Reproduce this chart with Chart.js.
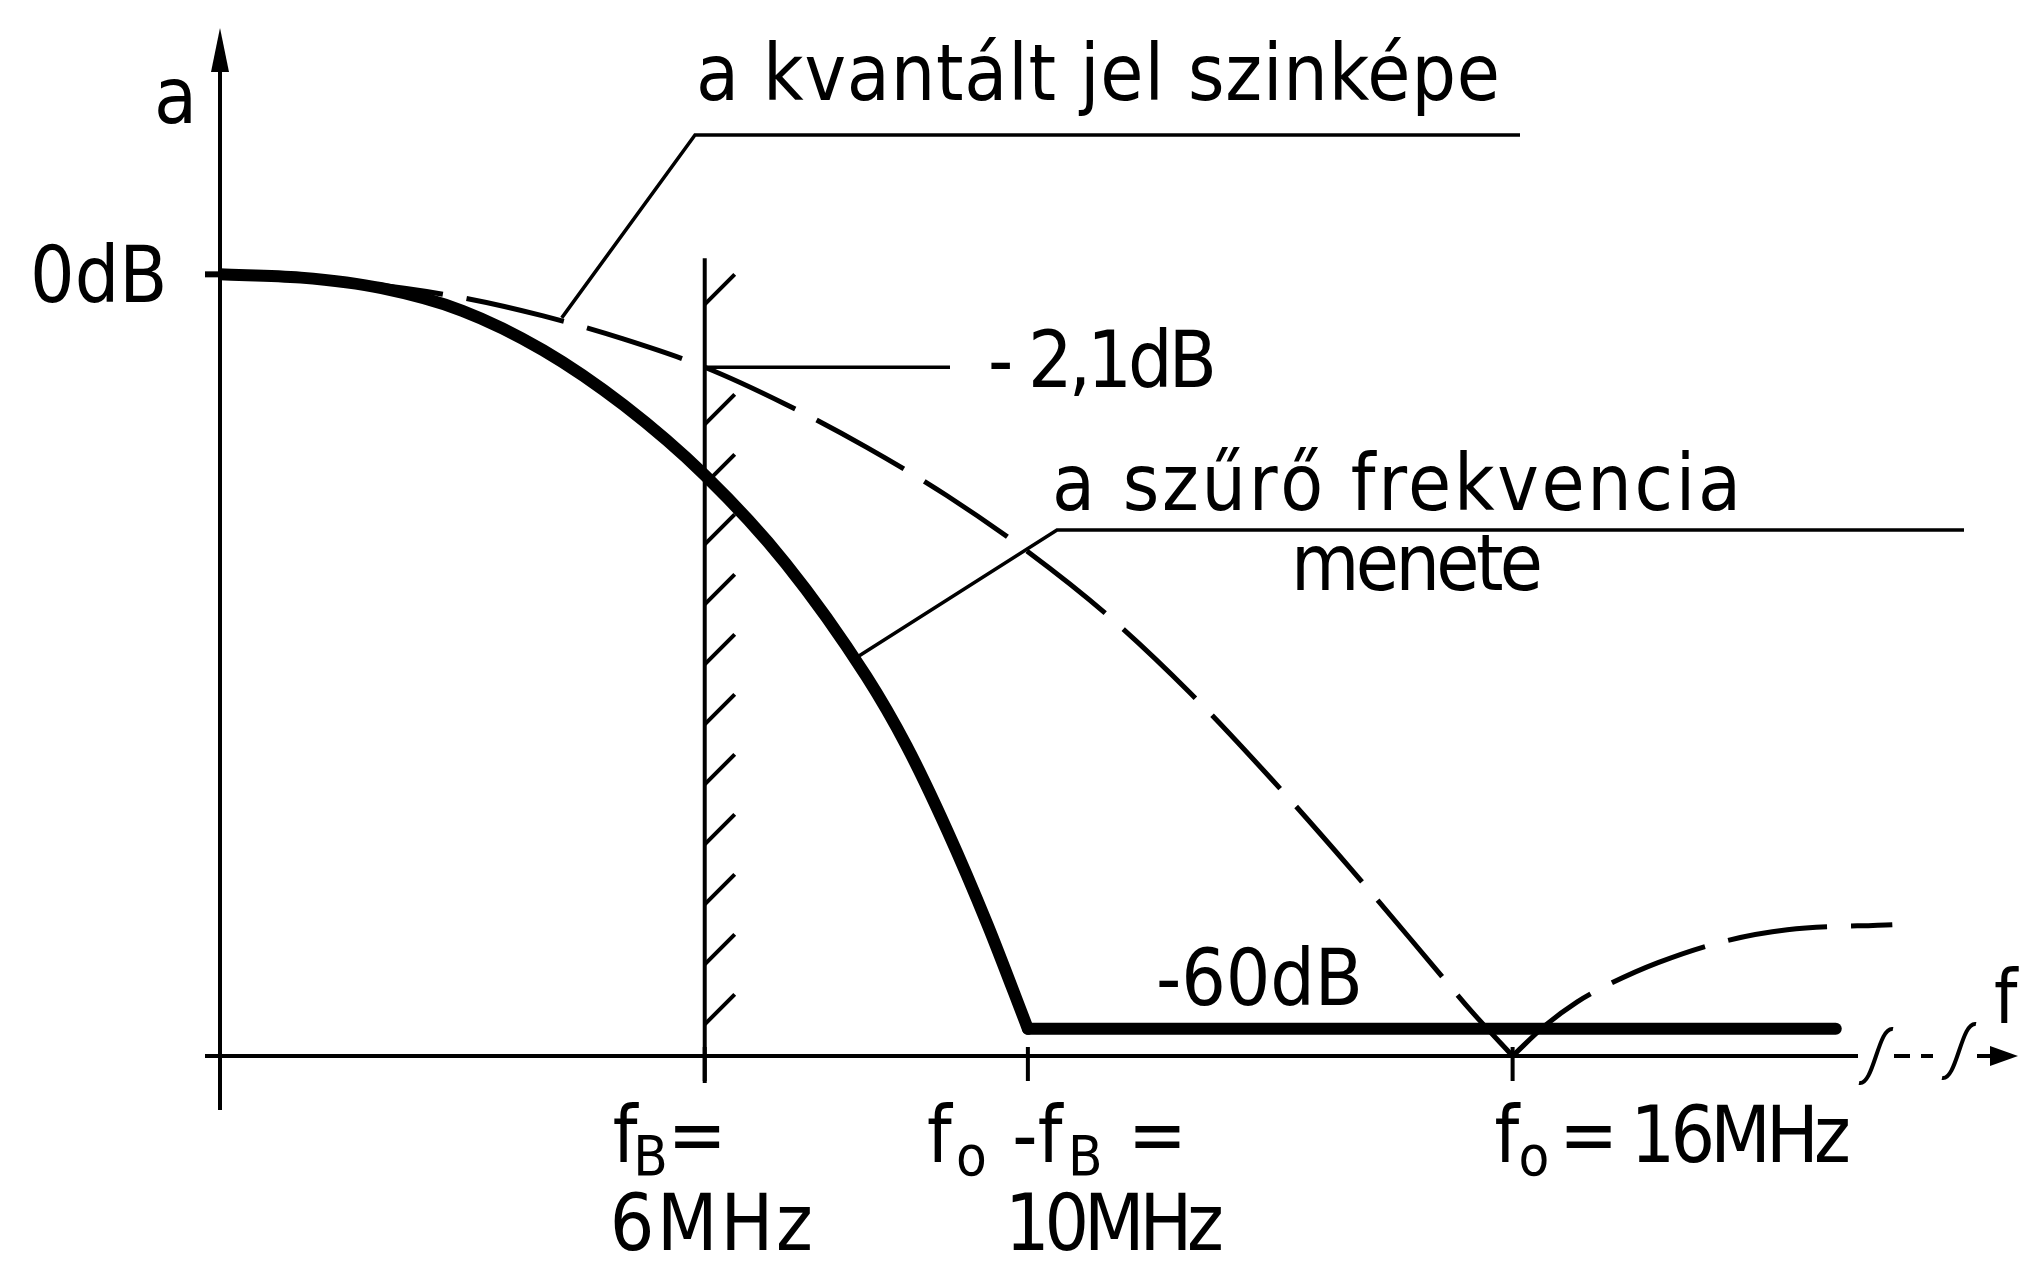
<!DOCTYPE html>
<html>
<head>
<meta charset="utf-8">
<title>Szűrő és kvantált jel szinképe</title>
<script src="https://cdn.jsdelivr.net/npm/chart.js"></script>
<style>
  html, body { margin: 0; padding: 0; background: #fff; }
  canvas { display: block; }
</style>
</head>
<body>
<canvas id="spectrum" width="2020" height="1262"></canvas>
<script>
// frequency axis (MHz)
const freqTicks = [6, 10, 16];
const freqTickLabels = [['f{B} =', '6MHz'], ['f{o} -f{B} =', '10MHz'], ['f{o} = 16MHz']];

// attenuation levels called out on the drawing (dB)
const levelMarks = [0, -2.1, -60];
const levelLabels = ['0dB', '- 2,1dB', '-60dB'];

// filter response, thick line (dB)
const filterFreq = [0, 1, 2, 3, 4, 5, 6, 7, 8, 8.5, 9, 9.5, 10];
const filterDb = [0, -0.01, -0.1, -0.47, -1.52, -3.64, -7.21, -12.9, -21.9, -28.3, -36.8, -47.3, -60];
const stopbandFreq = [10, 20];
const stopbandDb = [-60, -60];

// spectrum of the quantised signal, dashed: main lobe down to the null at f0, then the side lobe
const spectrumFreq = [0, 1, 1.8, 3, 4, 5, 6, 7, 8, 9, 10, 11, 12, 13, 14, 15, 15.5, 16];
const spectrumDb = [0, -0.01, -0.05, -0.23, -0.58, -1.18, -2.1, -3.59, -5.67, -8.43, -12.1, -16.9, -23.3, -31.4, -41.0, -52.0, -57.9, -63.5];
const sidelobeFreq = [16, 16.4, 16.8, 17.2, 17.8, 18.6, 19.4, 20.7];
const sidelobeDb = [-63.5, -59.6, -56.6, -54.4, -51.8, -49.3, -47.9, -47.3];

const INK = '#000';
const FONT = '"DejaVu Sans Condensed", "DejaVu Sans", sans-serif';
const DB_EXP = 0.6247; // the dB axis is drawn compressed, like on the original sketch

const LinearScale = Chart.LinearScale || Chart.registry.getScale('linear');

// linear scale with a power-law warp on attenuation
class AttenuationScale extends LinearScale {
  static id = 'attenuation';
  static defaults = LinearScale.defaults;
  warp(v) {
    const d = -v;
    return Math.sign(d) * Math.pow(Math.abs(d), DB_EXP);
  }
  getPixelForValue(value) {
    const a = this.warp(this.min), b = this.warp(this.max);
    return this.getPixelForDecimal((this.warp(value) - a) / (b - a));
  }
  getValueForPixel(pixel) {
    const a = this.warp(this.min), b = this.warp(this.max);
    const w = a + this.getDecimalForPixel(pixel) * (b - a);
    return -Math.sign(w) * Math.pow(Math.abs(w), 1 / DB_EXP);
  }
}
Chart.register(AttenuationScale);

const toPoints = (xs, ys) => xs.map((x, i) => ({ x: x, y: ys[i] }));

function valueAt(xs, ys, f) {
  for (let i = 1; i < xs.length; i++) {
    if (f <= xs[i]) {
      const t = (f - xs[i - 1]) / (xs[i] - xs[i - 1]);
      return ys[i - 1] + t * (ys[i] - ys[i - 1]);
    }
  }
  return ys[ys.length - 1];
}

function setFont(ctx, size) {
  ctx.font = size + 'px ' + FONT;
}

function text(ctx, str, x, y, size, width) {
  setFont(ctx, size);
  ctx.letterSpacing = '0px';
  if (width) {
    const w = ctx.measureText(str).width;
    ctx.letterSpacing = ((width - w) / Math.max(1, str.length - 1)) + 'px';
  }
  ctx.textAlign = 'left';
  ctx.textBaseline = 'alphabetic';
  ctx.fillText(str, x, y);
  ctx.letterSpacing = '0px';
}

// "f{B}" -> f with a subscript B; optional overall width
function richText(ctx, src, x, y, width) {
  const parts = src.split(/(\{[^}]*\})/).filter(Boolean).map(p => {
    const sub = p.charAt(0) === '{';
    return { s: sub ? p.slice(1, -1) : p, sub: sub };
  });
  const measure = p => {
    setFont(ctx, p.sub ? 56 : 78);
    return ctx.measureText(p.s).width + (p.sub ? 6 : 0);
  };
  const natural = parts.reduce((acc, p) => acc + measure(p), 0);
  const chars = parts.reduce((acc, p) => acc + p.s.length, 0);
  const gap = width ? (width - natural) / Math.max(1, chars - 1) : 0;
  let cx = x;
  ctx.textAlign = 'left';
  ctx.textBaseline = 'alphabetic';
  for (const p of parts) {
    const w = measure(p);
    ctx.letterSpacing = gap + 'px';
    ctx.fillText(p.s, cx + (p.sub ? 4 : 0), y + (p.sub ? 13 : 0));
    cx += w + gap * p.s.length;
  }
  ctx.letterSpacing = '0px';
}

function line(ctx, pts, width) {
  ctx.lineWidth = width;
  ctx.beginPath();
  pts.forEach(([px, py], i) => (i ? ctx.lineTo(px, py) : ctx.moveTo(px, py)));
  ctx.stroke();
}

// axis break mark, a stretched "ʃ"
function breakMark(ctx, cx, cy) {
  ctx.lineWidth = 4;
  ctx.beginPath();
  ctx.moveTo(cx - 17, cy + 27);
  ctx.bezierCurveTo(cx - 2, cy + 30, cx + 2, cy - 30, cx + 17, cy - 27);
  ctx.stroke();
}

const sketch = {
  id: 'sketch',
  beforeDatasetsDraw(chart) {
    const { ctx } = chart;
    const x = chart.scales.x, y = chart.scales.y;
    const x0 = x.getPixelForValue(0);
    const yBase = y.bottom;
    const zeroPx = y.getPixelForValue(levelMarks[0]);
    const lossPx = y.getPixelForValue(levelMarks[1]);
    const stopPx = y.getPixelForValue(levelMarks[2]);

    ctx.save();
    ctx.strokeStyle = INK;
    ctx.fillStyle = INK;
    ctx.lineCap = 'butt';

    // vertical axis with arrow
    line(ctx, [[x0, y.top + 40], [x0, yBase + 54]], 4);
    ctx.beginPath();
    ctx.moveTo(x0, y.top);
    ctx.lineTo(x0 - 9, y.top + 44);
    ctx.lineTo(x0 + 9, y.top + 44);
    ctx.closePath();
    ctx.fill();
    line(ctx, [[x0 - 15, zeroPx], [x0, zeroPx]], 6);

    // horizontal axis, break and arrow
    const xEnd = x.right;
    line(ctx, [[x0 - 15, yBase], [xEnd - 2, yBase]], 4);
    breakMark(ctx, xEnd + 16, yBase);
    line(ctx, [[xEnd + 34, yBase], [xEnd + 50, yBase]], 4);
    line(ctx, [[xEnd + 61, yBase], [xEnd + 73, yBase]], 4);
    breakMark(ctx, xEnd + 99, yBase - 5);
    line(ctx, [[xEnd + 117, yBase], [xEnd + 134, yBase]], 4);
    ctx.beginPath();
    ctx.moveTo(xEnd + 158, yBase);
    ctx.lineTo(xEnd + 130, yBase - 10);
    ctx.lineTo(xEnd + 130, yBase + 10);
    ctx.closePath();
    ctx.fill();

    // frequency ticks
    freqTicks.forEach(f => {
      const px = x.getPixelForValue(f);
      line(ctx, [[px, yBase - 9], [px, yBase + 25]], 4);
    });

    // band edge fB with hatching on the stop side
    const xb = x.getPixelForValue(freqTicks[0]);
    line(ctx, [[xb, zeroPx - 16], [xb, yBase + 27]], 4);
    for (let hy = zeroPx + 30; hy < yBase - 20; hy += 60) {
      if (Math.abs(hy - lossPx) < 20) continue;
      line(ctx, [[xb, hy], [xb + 30, hy - 30]], 4);
    }

    // -2,1 dB reference at fB
    line(ctx, [[xb, lossPx], [950, lossPx]], 3.5);

    // callout leaders
    const fq = 4.23;
    const qx = x.getPixelForValue(fq), qy = y.getPixelForValue(valueAt(spectrumFreq, spectrumDb, fq)) - 4;
    line(ctx, [[qx, qy], [695, 135], [1520, 135]], 3.5);
    const ff = 7.84;
    const fx = x.getPixelForValue(ff), fy = y.getPixelForValue(valueAt(filterFreq, filterDb, ff));
    line(ctx, [[fx, fy], [1057, 530], [1964, 530]], 3.5);

    // labels
    text(ctx, 'a', 154, 123, 78);
    text(ctx, 'f', 1994, 1023, 74);
    text(ctx, levelLabels[0], 30, zeroPx + 28, 78);
    text(ctx, levelLabels[1], 988, lossPx + 20, 78, 229);
    text(ctx, levelLabels[2], 1156, stopPx - 24, 78, 207);
    text(ctx, 'a kvantált jel szinképe', 696, 100, 78, 804);
    text(ctx, 'a szűrő frekvencia', 1052, 510, 78, 689);
    text(ctx, 'menete', 1291, 590, 78, 252);

    // two-line tick captions under the axis
    const captionShift = [[-92, -95], [-101, -23], [-18]];
    const captionWidth = [[122, 203], [258, 219], [361]];
    freqTicks.forEach((f, i) => {
      const px = x.getPixelForValue(f);
      freqTickLabels[i].forEach((lbl, j) => {
        const ly = yBase + (j === 0 ? 106 : 194);
        if (lbl.indexOf('{') >= 0) richText(ctx, lbl, px + captionShift[i][j], ly, captionWidth[i][j]);
        else text(ctx, lbl, px + captionShift[i][j], ly, 78, captionWidth[i][j]);
      });
    });

    ctx.restore();
  }
};

const thick = {
  borderColor: INK,
  borderWidth: 12,
  borderCapStyle: 'round',
  borderJoinStyle: 'round',
  pointRadius: 0,
  fill: false
};
const dashed = {
  borderColor: INK,
  borderWidth: 5,
  borderDash: [100, 24],
  borderCapStyle: 'butt',
  pointRadius: 0,
  fill: false,
  clip: false
};

new Chart(document.getElementById('spectrum'), {
  type: 'line',
  data: {
    datasets: [
      Object.assign({ label: 'a szűrő frekvencia menete', data: toPoints(filterFreq, filterDb), cubicInterpolationMode: 'monotone' }, thick),
      Object.assign({ label: 'zárótartomány', data: toPoints(stopbandFreq, stopbandDb) }, thick),
      Object.assign({ label: 'a kvantált jel szinképe', data: toPoints(spectrumFreq, spectrumDb), cubicInterpolationMode: 'monotone' }, dashed),
      Object.assign({ label: 'oldalnyaláb', data: toPoints(sidelobeFreq, sidelobeDb), cubicInterpolationMode: 'monotone' }, dashed)
    ]
  },
  options: {
    responsive: false,
    animation: false,
    events: [],
    layout: { padding: { left: 220, right: 160, top: 28, bottom: 206 } },
    scales: {
      x: { type: 'linear', min: 0, max: 20.3, display: false },
      y: { type: 'attenuation', min: -63.5, max: 10, display: false }
    },
    plugins: {
      legend: { display: false },
      tooltip: { enabled: false }
    }
  },
  plugins: [sketch]
});
</script>
</body>
</html>
